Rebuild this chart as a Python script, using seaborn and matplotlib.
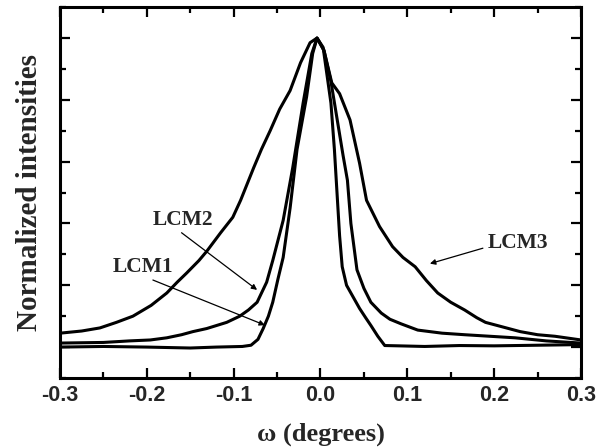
import numpy as np
import pandas as pd
import matplotlib
matplotlib.use("Agg")
import matplotlib.pyplot as plt
import seaborn as sns
from matplotlib.ticker import MultipleLocator

# rocking curves (omega in degrees, normalized intensity)
lcm1_omega = [-0.300, -0.250, -0.200, -0.150, -0.120, -0.090, -0.080, -0.072, -0.066,
              -0.060, -0.055, -0.049, -0.043, -0.039, -0.035, -0.027, -0.016, -0.009,
              -0.004, 0.003, 0.008, 0.012, 0.016, 0.019, 0.022, 0.025, 0.030, 0.037,
              0.045, 0.052, 0.058, 0.066, 0.074, 0.090, 0.120, 0.160, 0.200, 0.250, 0.300]
lcm1_int = [0.000, 0.002, 0.000, -0.003, 0.000, 0.002, 0.006, 0.025, 0.060,
            0.100, 0.145, 0.220, 0.290, 0.370, 0.450, 0.640, 0.810, 0.950,
            1.000, 0.970, 0.870, 0.790, 0.640, 0.500, 0.360, 0.260, 0.200, 0.165,
            0.125, 0.095, 0.070, 0.035, 0.005, 0.004, 0.002, 0.005, 0.004, 0.006, 0.008]

lcm2_omega = [-0.300, -0.250, -0.220, -0.196, -0.177, -0.160, -0.147, -0.131, -0.108,
              -0.093, -0.083, -0.073, -0.062, -0.055, -0.043, -0.032, -0.020, -0.010,
              -0.004, 0.004, 0.012, 0.019, 0.026, 0.031, 0.035, 0.042, 0.050, 0.058,
              0.070, 0.080, 0.093, 0.112, 0.140, 0.166, 0.195, 0.224, 0.260, 0.300]
lcm2_int = [0.013, 0.015, 0.020, 0.023, 0.030, 0.040, 0.050, 0.060, 0.080,
            0.100, 0.120, 0.145, 0.210, 0.280, 0.410, 0.580, 0.790, 0.950,
            1.000, 0.960, 0.860, 0.740, 0.620, 0.540, 0.400, 0.250, 0.190, 0.145,
            0.110, 0.090, 0.075, 0.055, 0.045, 0.040, 0.035, 0.030, 0.020, 0.013]

lcm3_omega = [-0.300, -0.275, -0.254, -0.235, -0.216, -0.195, -0.177, -0.165, -0.154,
              -0.140, -0.131, -0.115, -0.101, -0.092, -0.077, -0.068, -0.058, -0.047,
              -0.035, -0.023, -0.012, -0.004, 0.004, 0.013, 0.022, 0.034, 0.045, 0.053,
              0.068, 0.083, 0.095, 0.109, 0.122, 0.135, 0.150, 0.166, 0.180, 0.190,
              0.210, 0.230, 0.250, 0.270, 0.300]
lcm3_int = [0.045, 0.052, 0.062, 0.080, 0.100, 0.135, 0.175, 0.210, 0.240,
            0.280, 0.310, 0.370, 0.420, 0.475, 0.580, 0.640, 0.700, 0.770,
            0.830, 0.920, 0.985, 1.000, 0.960, 0.855, 0.820, 0.735, 0.595, 0.475,
            0.390, 0.325, 0.290, 0.260, 0.215, 0.175, 0.145, 0.120, 0.095, 0.080,
            0.065, 0.050, 0.040, 0.035, 0.023]

sns.set_style("ticks")

fig = plt.figure(figsize=(5.98, 4.47), dpi=100)
ax = fig.add_axes([0.1003, 0.1544, 0.8713, 0.8296])

for om, it in [(lcm1_omega, lcm1_int), (lcm2_omega, lcm2_int), (lcm3_omega, lcm3_int)]:
    sns.lineplot(x=om, y=it, ax=ax, color="black", linewidth=2.2,
                 sort=False, estimator=None)

ax.set_xlim(-0.3, 0.3)
ax.set_ylim(-0.1, 1.1)
ax.xaxis.set_major_locator(MultipleLocator(0.1))
ax.xaxis.set_minor_locator(MultipleLocator(0.05))
ax.yaxis.set_major_locator(MultipleLocator(0.2))
ax.yaxis.set_minor_locator(MultipleLocator(0.1))
ax.tick_params(which="both", direction="in", top=True, right=True, width=1.6, color="black")
ax.tick_params(which="major", length=7)
ax.tick_params(which="minor", length=4)
ax.tick_params(axis="y", labelleft=False)
ax.set_xticks([-0.3, -0.2, -0.1, 0.0, 0.1, 0.2, 0.3])
ax.set_xticklabels(["-0.3", "-0.2", "-0.1", "0.0", "0.1", "0.2", "0.3"],
                   fontfamily="Liberation Sans", fontweight="bold", fontsize=15.5)
ax.tick_params(axis="x", pad=5)
for sp in ax.spines.values():
    sp.set_linewidth(2.2)
    sp.set_color("black")

ax.set_xlabel("ω (degrees)", fontfamily="Liberation Serif", fontweight="bold",
              fontsize=19, labelpad=12)
ax.set_ylabel("Normalized intensities", fontfamily="Liberation Serif", fontweight="bold",
              fontsize=21, labelpad=9)

label_font = dict(fontfamily="Liberation Serif", fontweight="bold", fontsize=15.5)
arrow = dict(arrowstyle="-|>", color="black", lw=0.9, mutation_scale=8, shrinkA=0, shrinkB=0)
ax.annotate("", xy=(-0.073, 0.185), xytext=(-0.160, 0.37), arrowprops=arrow)
ax.annotate("", xy=(-0.064, 0.071), xytext=(-0.193, 0.217), arrowprops=arrow)
ax.annotate("", xy=(0.126, 0.27), xytext=(0.187, 0.32), arrowprops=arrow)
ax.text(-0.158, 0.41, "LCM2", ha="center", va="center", **label_font)
ax.text(-0.204, 0.26, "LCM1", ha="center", va="center", **label_font)
ax.text(0.227, 0.337, "LCM3", ha="center", va="center", **label_font)

fig.savefig("out.png", dpi=100)
